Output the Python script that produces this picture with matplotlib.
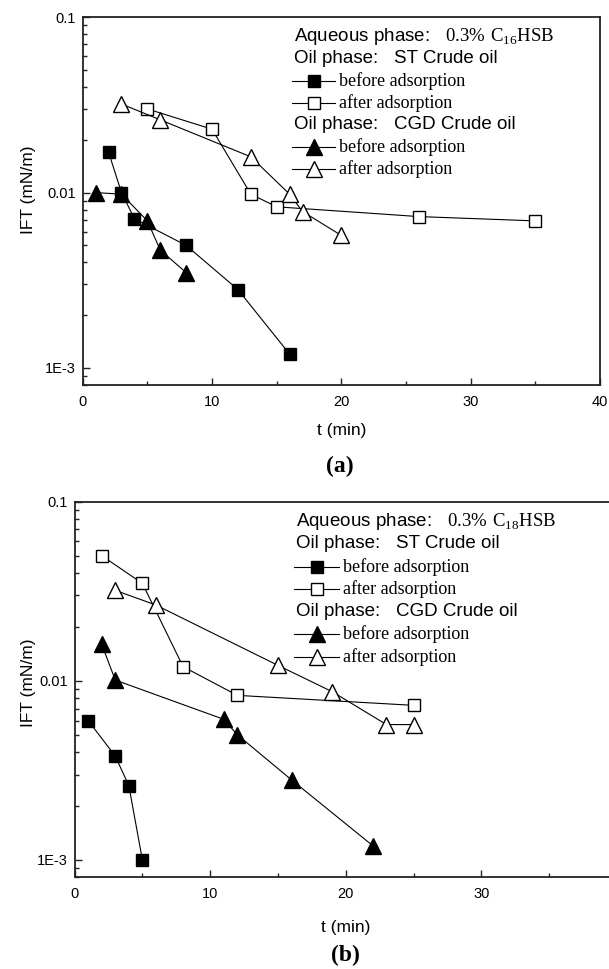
import matplotlib
matplotlib.use('Agg')
import matplotlib.pyplot as plt
from matplotlib.ticker import FixedLocator, FixedFormatter, LogLocator, MultipleLocator, NullFormatter

plt.rcParams['font.family'] = ['Liberation Sans', 'DejaVu Sans']
plt.rcParams['mathtext.fontset'] = 'custom'
plt.rcParams['mathtext.rm'] = 'Liberation Serif'

# (a) 0.3% C16HSB
a_st_before_t = [2, 3, 4, 8, 12, 16]
a_st_before = [0.017, 0.010, 0.0071, 0.0050, 0.0028, 0.0012]
a_st_after_t = [5, 10, 13, 15, 26, 35]
a_st_after = [0.030, 0.023, 0.0098, 0.0083, 0.0073, 0.0069]
a_cgd_before_t = [1, 3, 5, 6, 8]
a_cgd_before = [0.0100, 0.0098, 0.0069, 0.0047, 0.0035]
a_cgd_after_t = [3, 6, 13, 16, 17, 20]
a_cgd_after = [0.032, 0.026, 0.016, 0.0098, 0.0078, 0.0057]

# (b) 0.3% C18HSB
b_st_before_t = [1, 3, 4, 5]
b_st_before = [0.0060, 0.0038, 0.0026, 0.0010]
b_st_after_t = [2, 5, 8, 12, 25]
b_st_after = [0.050, 0.035, 0.012, 0.0083, 0.0073]
b_cgd_before_t = [2, 3, 11, 12, 16, 22]
b_cgd_before = [0.016, 0.0101, 0.0061, 0.0050, 0.0028, 0.0012]
b_cgd_after_t = [3, 6, 15, 19, 23, 25]
b_cgd_after = [0.032, 0.0265, 0.0122, 0.0087, 0.0057, 0.0057]

y_ticks = [0.1, 0.01, 0.001]
y_ticklabels = ['0.1', '0.01', '1E-3']
x_ticks = [0, 10, 20, 30, 40]

styles = {
    'sq_fill': dict(marker='s', ms=9, mfc='black', mec='black'),
    'sq_open': dict(marker='s', ms=9, mfc='white', mec='black'),
    'tri_fill': dict(marker='^', ms=11, mfc='black', mec='black'),
    'tri_open': dict(marker='^', ms=11, mfc='white', mec='black'),
}

fig = plt.figure(figsize=(6.09, 9.69), dpi=100)
ax1 = fig.add_axes([0.1358, 0.6027, 0.8494, 0.3795])
ax2 = fig.add_axes([0.1225, 0.0946, 0.8906, 0.3876])

panels = [
    (ax1, '16', -0.090, 0.53, 10.5,
     [(a_st_before_t, a_st_before, 'sq_fill'), (a_st_after_t, a_st_after, 'sq_open'),
      (a_cgd_before_t, a_cgd_before, 'tri_fill'), (a_cgd_after_t, a_cgd_after, 'tri_open')]),
    (ax2, '18', -0.071, 0.517, 14,
     [(b_st_before_t, b_st_before, 'sq_fill'), (b_st_after_t, b_st_after, 'sq_open'),
      (b_cgd_before_t, b_cgd_before, 'tri_fill'), (b_cgd_after_t, b_cgd_after, 'tri_open')]),
]

for ax, chain, ylab_x, ylab_y, xpad, series in panels:
    for t, v, st in series:
        ax.plot(t, v, color='black', lw=0.8, mew=1.0, **styles[st])

    ax.set_yscale('log')
    ax.set_ylim(0.0008, 0.1)
    ax.set_xlim(0, 40)
    ax.yaxis.set_major_locator(FixedLocator(y_ticks))
    ax.yaxis.set_major_formatter(FixedFormatter(y_ticklabels))
    ax.yaxis.set_minor_locator(LogLocator(base=10, subs=range(2, 10)))
    ax.yaxis.set_minor_formatter(NullFormatter())
    ax.xaxis.set_major_locator(FixedLocator(x_ticks))
    ax.xaxis.set_minor_locator(MultipleLocator(5))
    ax.tick_params(which='both', direction='in', width=1.0, labelsize=10.5, color='#222222')
    ax.tick_params(axis='x', pad=7)
    ax.tick_params(axis='y', pad=5)
    ax.tick_params(which='major', length=5)
    ax.tick_params(which='minor', length=3)
    for sp in ax.spines.values():
        sp.set_linewidth(1.3)
        sp.set_color('#222222')
    ax.set_xlabel('t (min)', fontsize=12.5, labelpad=xpad)
    ax.set_ylabel('IFT (mN/m)', fontsize=12.5)
    ax.yaxis.set_label_coords(ylab_x, ylab_y)

    # key drawn as text in axes fraction
    rows = [0.948, 0.889, 0.827, 0.768, 0.707, 0.647, 0.587]
    ax.text(0.409, rows[0], 'Aqueous phase:   $\\mathrm{0.3\\%\\ C}_{\\mathrm{' + chain + '}}\\mathrm{HSB}$',
            transform=ax.transAxes, fontsize=13.5, va='center')
    ax.text(0.409, rows[1], 'Oil phase:   ST Crude oil', transform=ax.transAxes, fontsize=13.5, va='center')
    ax.text(0.409, rows[4], 'Oil phase:   CGD Crude oil', transform=ax.transAxes, fontsize=13.5, va='center')
    for r, (t, v, st), lab in zip([rows[2], rows[3], rows[5], rows[6]], series,
                                  ['before adsorption', 'after adsorption', 'before adsorption', 'after adsorption']):
        ax.plot([0.405, 0.488], [r, r], transform=ax.transAxes, color='black', lw=0.8, clip_on=False)
        ax.plot([0.447], [r], transform=ax.transAxes, color='black', mew=1.0, clip_on=False, **styles[st])
        ax.text(0.495, r, lab, transform=ax.transAxes, fontsize=13, va='center',
                family=['Liberation Serif', 'DejaVu Serif'])

fig.text(340 / 609, 1 - 466.7 / 969, '(a)', fontsize=17, fontweight='bold', ha='center', va='center',
         family=['Liberation Serif', 'DejaVu Serif'])
fig.text(345 / 609, 1 - 955 / 969, '(b)', fontsize=17, fontweight='bold', ha='center', va='center',
         family=['Liberation Serif', 'DejaVu Serif'])

plt.savefig('out.png', dpi=100)
